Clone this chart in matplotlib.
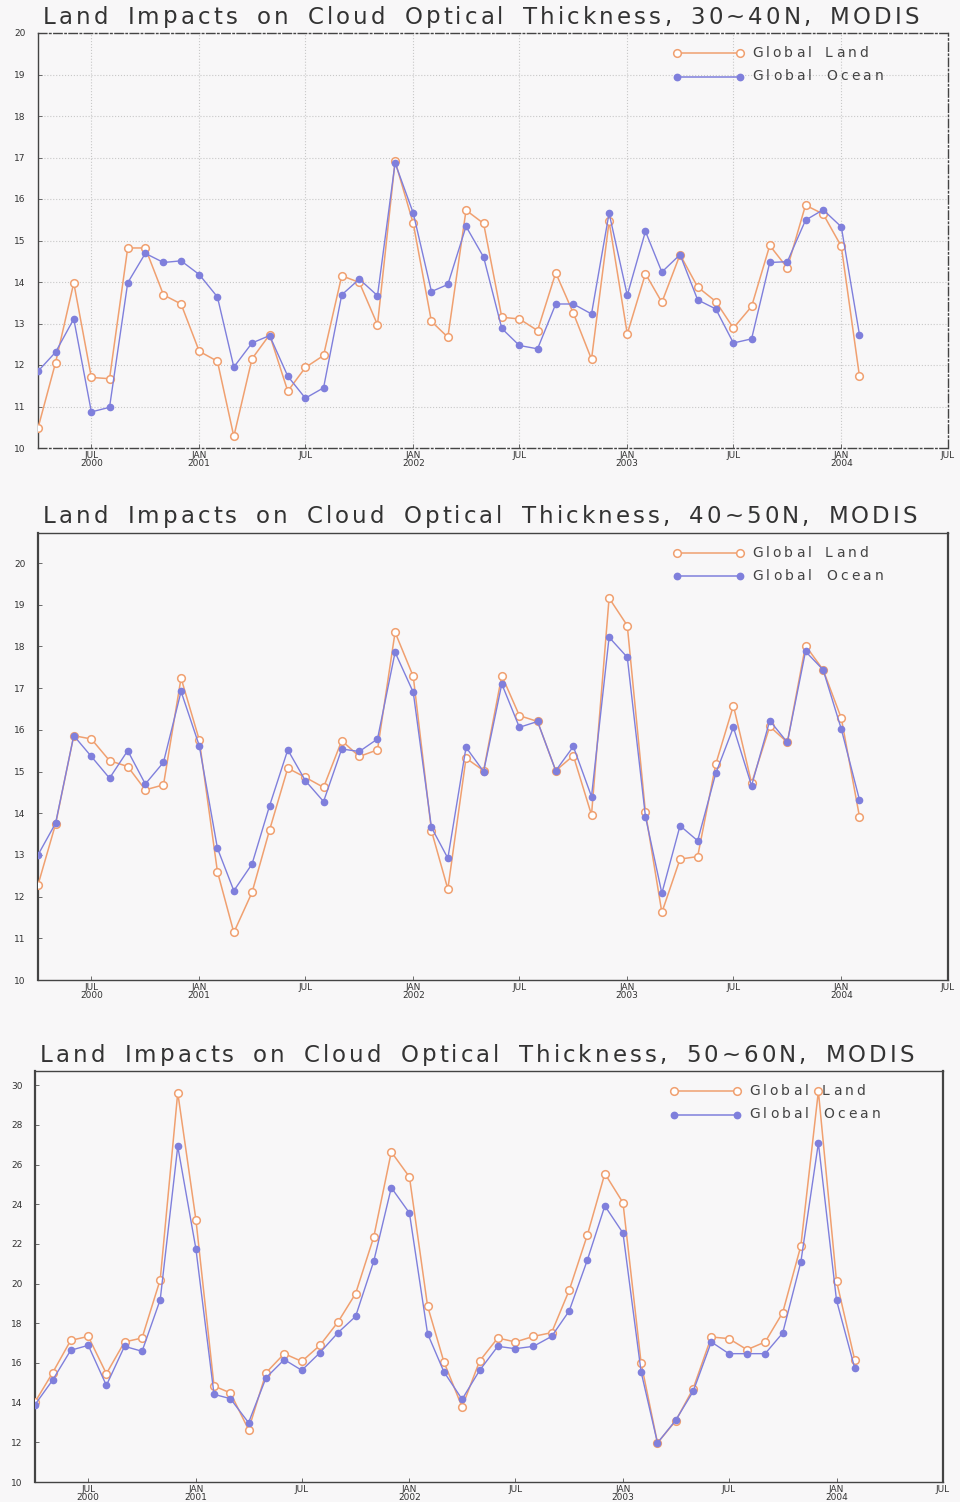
import numpy as np
import pandas as pd
import matplotlib
matplotlib.use('Agg')
import matplotlib.pyplot as plt

# monthly MODIS means, Apr 2000 .. Feb 2004
months = pd.date_range('2000-04-01', periods=47, freq='MS')

land_30_40 = [10.48, 12.06, 13.98, 11.70, 11.67, 14.82, 14.82, 13.69, 13.47, 12.33,
              12.09, 10.28, 12.15, 12.73, 11.37, 11.94, 12.23, 14.15, 13.99, 12.97,
              16.91, 15.41, 13.05, 12.67, 15.73, 15.41, 13.15, 13.11, 12.83, 14.22,
              13.25, 12.14, 15.46, 12.75, 14.20, 13.51, 14.66, 13.88, 13.53, 12.89,
              13.41, 14.88, 14.34, 15.85, 15.64, 14.86, 11.73]
ocean_30_40 = [11.85, 12.31, 13.11, 10.87, 10.98, 13.98, 14.69, 14.47, 14.51, 14.18,
               13.64, 11.95, 12.53, 12.71, 11.73, 11.20, 11.45, 13.69, 14.07, 13.67,
               16.87, 15.66, 13.77, 13.94, 15.34, 14.60, 12.88, 12.47, 12.39, 13.47,
               13.47, 13.23, 15.66, 13.68, 15.22, 14.24, 14.66, 13.57, 13.35, 12.53,
               12.63, 14.47, 14.49, 15.49, 15.74, 15.33, 12.73]

land_40_50 = [12.28, 13.74, 15.86, 15.78, 15.26, 15.12, 14.56, 14.68, 17.24, 15.76,
              12.60, 11.14, 12.10, 13.60, 15.08, 14.86, 14.62, 15.74, 15.36, 15.52,
              18.34, 17.28, 13.58, 12.18, 15.32, 15.02, 17.30, 16.34, 16.20, 15.02,
              15.38, 13.96, 19.16, 18.50, 14.02, 11.62, 12.90, 12.96, 15.18, 16.58,
              14.72, 16.08, 15.70, 18.02, 17.44, 16.28, 13.92]
ocean_40_50 = [13.00, 13.76, 15.86, 15.36, 14.84, 15.50, 14.70, 15.22, 16.92, 15.62,
               13.16, 12.14, 12.78, 14.18, 15.52, 14.78, 14.28, 15.54, 15.48, 15.78,
               17.86, 16.90, 13.66, 12.92, 15.58, 15.00, 17.10, 16.06, 16.20, 15.02,
               15.60, 14.40, 18.22, 17.74, 13.92, 12.08, 13.70, 13.34, 14.96, 16.06,
               14.66, 16.22, 15.70, 17.88, 17.44, 16.02, 14.32]

land_50_60 = [14.03, 15.50, 17.14, 17.34, 15.46, 17.06, 17.26, 20.20, 29.63, 23.23,
              14.84, 14.49, 12.64, 15.51, 16.47, 16.08, 16.89, 18.07, 19.50, 22.35,
              26.64, 25.38, 18.87, 16.05, 13.78, 16.10, 17.26, 17.06, 17.34, 17.53,
              19.66, 22.44, 25.55, 24.08, 16.00, 11.97, 13.08, 14.71, 17.31, 17.23,
              16.67, 17.06, 18.54, 21.90, 29.70, 20.13, 16.17]
ocean_50_60 = [13.90, 15.13, 16.64, 16.89, 14.87, 16.84, 16.59, 19.19, 26.92, 21.76,
               14.42, 14.20, 12.99, 15.26, 16.17, 15.63, 16.52, 17.53, 18.35, 21.13,
               24.84, 23.56, 17.48, 15.55, 14.17, 15.63, 16.84, 16.72, 16.84, 17.34,
               18.62, 21.18, 23.92, 22.55, 15.55, 11.97, 13.11, 14.57, 17.06, 16.47,
               16.47, 16.47, 17.51, 21.09, 27.09, 19.16, 15.75]

tick_dates = pd.date_range('2000-07-01', periods=9, freq='6MS')
tick_labels = ['JUL\n2000', 'JAN\n2001', 'JUL', 'JAN\n2002', 'JUL',
               'JAN\n2003', 'JUL', 'JAN\n2004', 'JUL']

LAND_C = '#f0a070'
OCEAN_C = '#7f7fdc'
BG = '#f8f7f8'

panels = [
    dict(land=land_30_40, ocean=ocean_30_40, lat='30~40N', rect=[38, 33, 910, 415],
         ylim=(10, 20), yticks=np.arange(10, 21, 1), title=(43, 927, 17), grid=True),
    dict(land=land_40_50, ocean=ocean_40_50, lat='40~50N', rect=[38, 533, 910, 447],
         ylim=(10, 20.72), yticks=np.arange(10, 21, 1), title=(43, 925, 516), grid=False),
    dict(land=land_50_60, ocean=ocean_50_60, lat='50~60N', rect=[35, 1071, 908, 411],
         ylim=(10, 30.72), yticks=np.arange(10, 31, 2), title=(40, 922, 1055), grid=False),
]

W, H = 960, 1502
fig = plt.figure(figsize=(W / 100, H / 100), dpi=100, facecolor=BG)
renderer = fig.canvas.get_renderer()


def spaced_text(s, x_left, x_right, y, size, color, space=0.9):
    # GrADS-style wide lettering: place chars one by one, spread to a width
    widths = []
    for ch in s:
        t = fig.text(0, 0, ch if ch != ' ' else 'n', fontsize=size)
        widths.append(t.get_window_extent(renderer).width * (space if ch == ' ' else 1))
        t.remove()
    extra = (x_right - x_left - sum(widths)) / (len(s) - 1)
    x = x_left
    for ch, wd in zip(s, widths):
        if ch != ' ':
            fig.text(x / W, 1 - y / H, ch, fontsize=size, color=color,
                     ha='left', va='center')
        x += wd + extra


for p in panels:
    x0, y0, w, h = p['rect']
    ax = fig.add_axes([x0 / W, 1 - (y0 + h) / H, w / W, h / H], facecolor=BG)

    ax.plot(months, p['land'], color=LAND_C, lw=1.1, marker='o', ms=5.5,
            mfc='white', mec=LAND_C, mew=1.1, zorder=3)
    ax.plot(months, p['ocean'], color=OCEAN_C, lw=1.0, marker='o', ms=4.5,
            mfc=OCEAN_C, mec=OCEAN_C, zorder=4)

    ax.set_xlim(months[0], pd.Timestamp('2004-07-01'))
    ax.set_ylim(*p['ylim'])
    ax.set_xticks(tick_dates)
    ax.set_xticklabels(tick_labels, fontsize=6.5, linespacing=0.85)
    ax.set_yticks(p['yticks'])
    ax.set_yticklabels([str(v) for v in p['yticks']], fontsize=6.5)
    ax.tick_params(axis='both', direction='in', length=3, width=0.6, color='#555555',
                   labelcolor='#333333')
    ax.tick_params(axis='x', pad=2)
    ax.tick_params(axis='y', pad=9)

    for side, sp in ax.spines.items():
        sp.set_color('#444444')
        sp.set_linewidth(1.0)
    if p['grid']:
        ax.grid(True, color='#c8c8c8', ls=':', lw=0.8)
        for side in ('top', 'right', 'bottom'):
            ax.spines[side].set_linestyle((0, (6, 2, 1, 2)))
    else:
        ax.spines['left'].set_linewidth(1.6)
        ax.spines['right'].set_linewidth(1.6)

    # legend: two-marker handle plus wide-spaced label
    lx0, lx1 = 677 - 38, 740 - 38
    for k, (lab, col, fc, ms) in enumerate([('Global Land', LAND_C, 'white', 5.5),
                                           ('Global Ocean', OCEAN_C, OCEAN_C, 4.5)]):
        ly = 20 + 23.5 * k
        ax.plot([lx0 / w, lx1 / w], [1 - ly / h, 1 - ly / h], transform=ax.transAxes,
                color=col, lw=1.1, marker='o', ms=ms, mfc=fc, mec=col, mew=1.1,
                clip_on=False)
        spaced_text(lab, 752 + (x0 - 38), 868 + 15 * k + (x0 - 38),
                    y0 + ly, 10, '#444444')

    title = 'Land Impacts on Cloud Optical Thickness, ' + p['lat'] + ', MODIS'
    tx0, tx1, ty = p['title']
    spaced_text(title, tx0, tx1 - 8, ty, 16.5, '#333333')

fig.savefig('out.png', dpi=100, facecolor=BG)
